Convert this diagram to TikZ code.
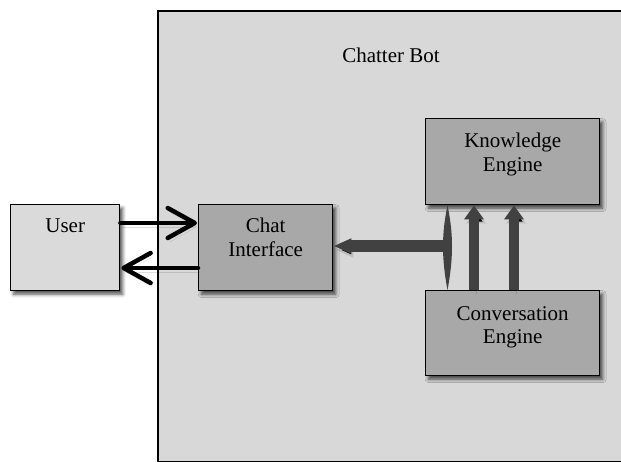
\documentclass[tikz,border=0pt]{standalone}
\usepackage{fontspec}
\setmainfont{Liberation Serif}
\usetikzlibrary{arrows.meta,shadows.blur,calc}

\definecolor{panelgray}{HTML}{D8D8D8}
\definecolor{lightbox}{HTML}{DADADA}
\definecolor{darkbox}{HTML}{A8A8A8}
\definecolor{linkgray}{HTML}{414141}

\tikzset{
  softshadow/.style={blur shadow={shadow xshift=3pt, shadow yshift=-3.5pt,
      shadow blur radius=3.5pt, shadow opacity=70}},
  block/.style={draw=black, line width=1.4pt, rectangle, inner sep=0pt,
      anchor=north west, softshadow},
  lbl/.style={inner sep=0pt, anchor=base, font=\fontsize{21}{23}\selectfont},
  linkshadow/.style={preaction={draw=black, draw opacity=0.12,
      transform canvas={xshift=2pt, yshift=-4pt}}},
  userlink/.style={draw=black, line width=4.5pt, line cap=round, linkshadow,
      -{Straight Barb[length=27pt, width=30pt, round]}},
  uplink/.style={draw=linkgray, line width=10pt, linkshadow,
      -{Triangle[length=14pt, width=19pt]}},
  barlink/.style={draw=linkgray, line width=12pt, linkshadow,
      {Triangle[length=18pt, width=14pt]}-},
}

\begin{document}
\begin{tikzpicture}[x=1pt, y=-1pt]
  \useasboundingbox (0,0) rectangle (621,462);
  \clip (0,0) rectangle (621,462);

  % enclosing system panel
  \node[draw=black, line width=1.6pt, fill=panelgray, inner sep=0pt,
        anchor=north west, minimum width=480pt, minimum height=451pt]
        (bot) at (157,10) {};
  \node[lbl] at (391,63) {Chatter Bot};

  % blocks
  \node[block, fill=lightbox, minimum width=109pt, minimum height=86pt]
        (user) at (10,204) {};
  \node[block, fill=darkbox, minimum width=134pt, minimum height=86pt]
        (chat) at (198,204) {};
  \node[block, fill=darkbox, minimum width=174pt, minimum height=86pt]
        (know) at (425,118) {};
  \node[block, fill=darkbox, minimum width=174pt, minimum height=85pt]
        (conv) at (425,290) {};

  % block captions
  \node[lbl] at ($(user.north)+(0,29)$) {User};
  \node[lbl] at ($(chat.north)+(0,29)$) {Chat};
  \node[lbl] at ($(chat.north)+(0,53)$) {Interface};
  \node[lbl] at ($(know.north)+(0,30)$) {Knowledge};
  \node[lbl] at ($(know.north)+(0,54)$) {Engine};
  \node[lbl] at ($(conv.north)+(0,30)$) {Conversation};
  \node[lbl] at ($(conv.north)+(0,53)$) {Engine};

  % user <-> chat interface
  \draw[userlink] (user.east |- 0,223) -- ($(chat.west |- 0,223)+(-1,0)$);
  \draw[userlink] (chat.west |- 0,268) -- ($(user.east |- 0,268)+(1,0)$);

  % conversation engine -> knowledge engine
  \draw[uplink] (conv.north -| 474,0) -- (know.south -| 474,0);
  \draw[uplink] (conv.north -| 514,0) -- (know.south -| 514,0);

  % chat interface <-> engines bus
  \coordinate (bus) at (447.5,246);
  \draw[barlink] (chat.east |- bus) -- ($(bus)+(-2,0)$);
  \fill[linkgray] (know.south -| bus)
      .. controls ($(bus)+(6,-12)$) and ($(bus)+(6,12)$) .. (conv.north -| bus)
      .. controls ($(bus)+(-6,12)$) and ($(bus)+(-6,-12)$) .. cycle;
\end{tikzpicture}
\end{document}
